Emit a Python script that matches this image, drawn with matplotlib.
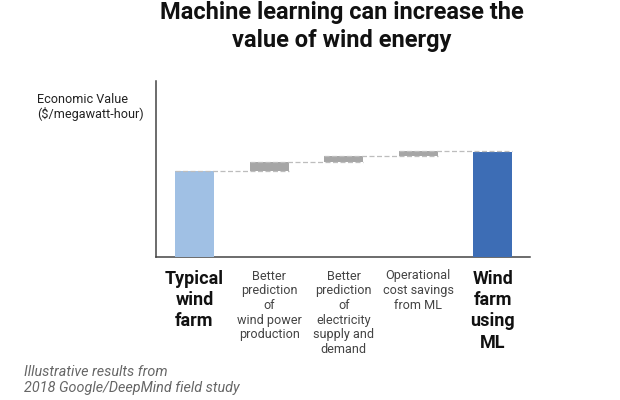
import matplotlib
matplotlib.use("Agg")
import matplotlib.pyplot as plt

plt.rcParams['font.family'] = ['Roboto', 'DejaVu Sans']

# --- Data ---
labels = ["Typical\nwind\nfarm",
          "Better\nprediction\nof\nwind power\nproduction",
          "Better\nprediction\nof\nelectricity\nsupply and\ndemand",
          "Operational\ncost savings\nfrom ML",
          "Wind\nfarm\nusing\nML"]
bottoms = [0, 85.5, 95, 100.5, 0]
heights = [85.5, 9.5, 5.5, 5, 105]
colors = ["#a0c0e4", "#a6a6a6", "#a6a6a6", "#a6a6a6", "#3d6db5"]
bold = [True, False, False, False, True]
levels = [85.5, 95, 100.5, 105.5]

W, H = 620, 400
fig = plt.figure(figsize=(W / 100, H / 100), dpi=100)
ax = fig.add_axes([156 / W, 1 - 256.5 / H, (530 - 156) / W, (256.5 - 81) / H])

xs = list(range(5))
ax.bar(xs, heights, bottom=bottoms, width=0.523, color=colors, zorder=3)

# pointillés entre les barres
for i, lev in enumerate(levels):
    ax.plot([i - 0.26, i + 1.26], [lev, lev], color="#bdbdbd", lw=0.9, ls=(0, (4, 2)), zorder=4)

ax.set_xlim(-0.516, 4.497)
ax.set_ylim(0, 175.5)
ax.set_xticks([])
ax.set_yticks([])
for s in ["top", "right"]:
    ax.spines[s].set_visible(False)
for s in ["left", "bottom"]:
    ax.spines[s].set_color("#444444")
    ax.spines[s].set_linewidth(1.1)

# Étiquettes sous les barres
for x, lab, b in zip(xs, labels, bold):
    if b:
        ax.annotate(lab, (x, 0), xytext=(0, -13), textcoords="offset pixels", ha="center", va="top",
                    fontsize=13, fontweight="bold", color="#111111", linespacing=1.24)
    else:
        ax.annotate(lab, (x, 0), xytext=(0, -13), textcoords="offset pixels", ha="center", va="top",
                    fontsize=9.1, color="#444444", linespacing=1.17)

fig.text(342 / W, 1 - 1 / H, "Machine learning can increase the\nvalue of wind energy",
         ha="center", va="top", fontsize=17, fontweight="bold", color="#111111", linespacing=1.26)
fig.text(37 / W, 1 - 93 / H, "Economic Value\n($/megawatt-hour)", ha="left", va="top",
         fontsize=9.1, color="#222222", linespacing=1.1)
fig.text(24 / W, 1 - 365 / H, "Illustrative results from\n2018 Google/DeepMind field study",
         ha="left", va="top", fontsize=10.4, style="italic", color="#666666", linespacing=1.2)

fig.savefig("out.png", dpi=100)
